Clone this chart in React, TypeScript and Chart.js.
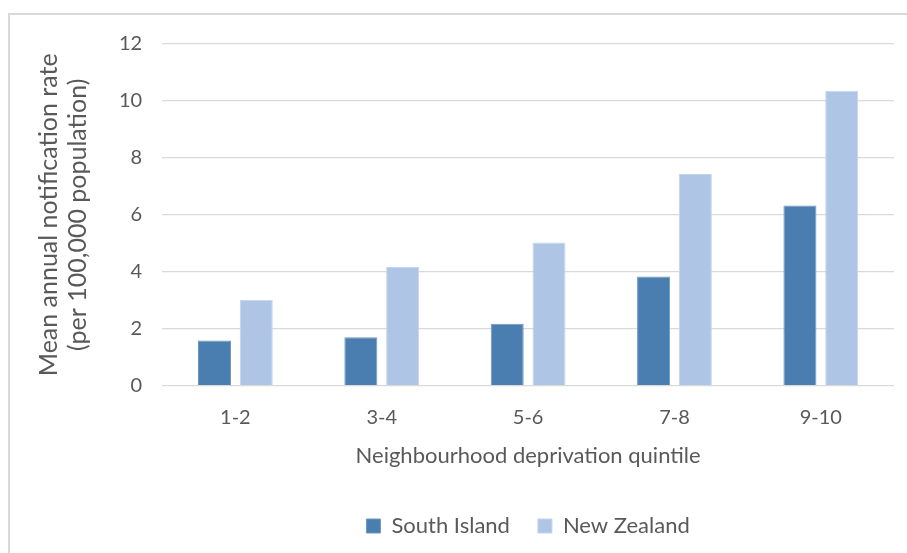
import React, { useEffect, useRef } from "react";
import { Chart, registerables } from "chart.js";

Chart.register(...registerables);

const categories = ["1-2", "3-4", "5-6", "7-8", "9-10"];
const southIsland = [1.58, 1.7, 2.17, 3.83, 6.33];
const newZealand = [3.02, 4.17, 5.03, 7.43, 10.36];
const yTitle = ["Mean annual notification rate", "(per 100,000 population)"];
const xTitle = "Neighbourhood deprivation quintile";
const seriesNames = ["South Island", "New Zealand"];

const FONT = "Lato, 'Open Sans', sans-serif";
const TEXT = "#595959";

export default function App() {
  const ref = useRef<HTMLCanvasElement | null>(null);

  useEffect(() => {
    if (!ref.current) return;
    const chart = new Chart(ref.current, {
      type: "bar",
      data: {
        labels: categories,
        datasets: [
          {
            label: seriesNames[0],
            data: southIsland,
            backgroundColor: "#4a7eb0",
            borderColor: "#6f97c0",
            borderWidth: 1,
            categoryPercentage: 0.571,
            barPercentage: 0.79,
          },
          {
            label: seriesNames[1],
            data: newZealand,
            backgroundColor: "#aec5e6",
            borderColor: "#c3d5ee",
            borderWidth: 1,
            categoryPercentage: 0.571,
            barPercentage: 0.79,
          },
        ],
      },
      options: {
        animation: false,
        responsive: true,
        maintainAspectRatio: false,
        layout: { padding: { left: 34, right: 13, top: 44, bottom: 6 } },
        plugins: {
          tooltip: { enabled: false },
          legend: {
            position: "bottom",
            fullSize: false,
            labels: {
              boxWidth: 14,
              boxHeight: 14,
              padding: 28,
              color: TEXT,
              font: { family: FONT, size: 22 },
            },
          },
        },
        scales: {
          x: {
            grid: { display: false, drawTicks: false },
            border: { display: false },
            ticks: { color: TEXT, font: { family: FONT, size: 20 }, padding: 20 },
            title: {
              display: true,
              text: xTitle,
              color: TEXT,
              font: { family: FONT, size: 22 },
              padding: { top: -7, bottom: 18 },
            },
          },
          y: {
            min: 0,
            max: 12,
            ticks: { stepSize: 2, color: TEXT, font: { family: FONT, size: 20 }, padding: 20 },
            grid: { color: "#d9d9d9", lineWidth: 1.3, drawTicks: false },
            border: { display: false },
            title: {
              display: true,
              text: yTitle,
              color: TEXT,
              font: { family: FONT, size: 25, lineHeight: 1.18 },
              padding: { top: 0, bottom: 6 },
            },
          },
        },
      },
    });
    return () => chart.destroy();
  }, []);

  return (
    <>
      <div
        style={{
          position: "fixed",
          left: 8,
          top: 13,
          width: 899,
          height: 540,
          borderLeft: "2px solid #d9d9d9",
          borderTop: "2px solid #d9d9d9",
          boxSizing: "border-box",
        }}
      />
      <div style={{ position: "fixed", left: 0, top: 0, width: 907, height: 553 }}>
        <canvas ref={ref} />
      </div>
    </>
  );
}
